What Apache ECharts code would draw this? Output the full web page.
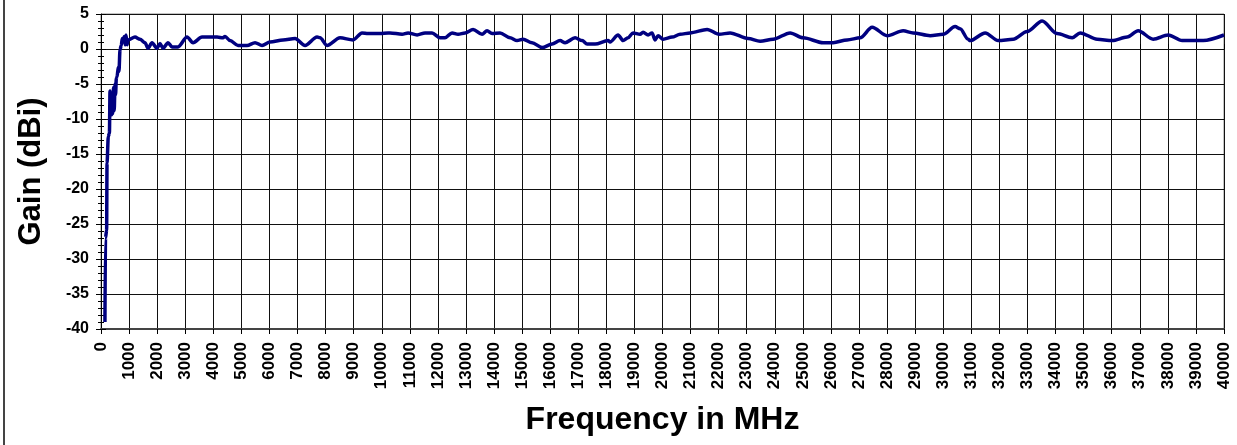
<!DOCTYPE html>
<html>
<head>
<meta charset="utf-8">
<script src="https://cdn.jsdelivr.net/npm/echarts@6/dist/echarts.min.js"></script>
<style>
html,body{margin:0;padding:0;background:#fff;}
#chart{width:1237px;height:445px;}
</style>
</head>
<body>
<div id="chart"></div>
<script>
// Frequency (MHz) and gain (dBi)
const freqMHz = [
  140,160,200,215,260,300,321,340,360,380,400,420,445,470,500,520,545,570,616,640,677,720,760,794,830,860,891,930,962,
  1211,1389,1568,1674,1817,1995,2102,2209,2387,2529,2743,3064,3278,3598,4133,4346,4418,4596,4881,5201,5486,5736,6021,
  6484,6911,7268,7695,7802,8051,8514,8978,9298,9512,9939,10224,10296,10723,10937,11258,11543,11792,12077,12255,12504,
  12718,12968,13253,13573,13751,13929,14214,14571,14820,15034,15354,15711,16067,16352,16530,16886,17136,17314,17599,
  18062,18133,18418,18596,18774,18953,19202,19309,19487,19629,19736,19843,20021,20342,20627,20983,21589,22016,22408,
  23049,23477,23940,24546,25009,25721,26078,26576,27039,27467,28001,28571,28928,29533,29996,30424,30602,30887,30958,
  31493,31956,32490,32989,33523,34057,34591,34876,35482,36016,36551,36943,37477,38012,38511,39259,40000
];
const gainDbi = [
  -39.0,-27.0,-25.9,-16.3,-12.5,-12.0,-6.0,-9.3,-6.3,-9.4,-7.5,-9.2,-5.5,-8.8,-5.0,-6.5,-4.2,-4.0,-2.6,-3.2,-0.1,0.5,1.5,1.1,1.8,0.6,2.0,0.6,1.3,
  1.7,1.4,0.9,0.1,0.9,0.1,0.8,0.1,0.9,0.3,0.3,1.7,0.9,1.7,1.7,1.6,1.8,1.2,0.5,0.5,0.9,0.5,1.0,
  1.3,1.5,0.5,1.7,1.6,0.5,1.6,1.3,2.3,2.2,2.2,2.3,2.3,2.1,2.3,2.0,2.3,2.3,1.6,1.6,2.3,
  2.1,2.3,2.8,2.1,2.6,2.2,2.3,1.6,1.2,1.4,0.9,0.2,0.7,1.2,0.9,1.6,1.2,0.7,0.7,
  1.2,1.0,2.0,1.2,1.6,2.3,2.1,2.4,2.0,2.3,1.3,1.9,1.4,1.7,2.1,2.3,2.8,2.1,2.3,
  1.5,1.1,1.4,2.3,1.6,0.9,0.9,1.3,1.6,3.1,1.9,2.6,2.3,1.9,2.1,3.2,2.9,1.4,1.2,
  2.3,1.2,1.4,2.5,4.0,2.2,1.6,2.3,1.4,1.2,1.7,2.6,1.4,2.0,1.2,1.2,2.0
];
const xTickStep = 1000;
const yTickStep = 5;

const chart = echarts.init(document.getElementById('chart'), null, {renderer: 'canvas'});
const pairs = freqMHz.map((f, i) => [f, gainDbi[i]]);
const labelFont = {fontFamily: 'Liberation Sans, Arial, sans-serif', fontWeight: 'bold', color: '#000'};

chart.setOption({
  animation: false,
  backgroundColor: '#fff',
  grid: {left: 101, right: 13, top: 14, bottom: 116, show: true, borderColor: '#888', borderWidth: 1},
  xAxis: [{
    type: 'value', min: 0, max: 40000, interval: xTickStep, position: 'bottom',
    name: 'Frequency in MHz', nameLocation: 'middle', nameGap: 75,
    nameTextStyle: Object.assign({fontSize: 32}, labelFont),
    axisLine: {show: true, onZero: false, lineStyle: {color: '#444', width: 2}},
    axisTick: {show: true, length: 5, lineStyle: {color: '#000'}},
    axisLabel: Object.assign({rotate: 90, fontSize: 17, margin: 13, hideOverlap: false, interval: 0,
      formatter: v => String(v)}, labelFont),
    splitLine: {show: true, lineStyle: {color: '#111', width: 1}}
  }, {
    type: 'value', min: 0, max: 40000, interval: xTickStep, position: 'bottom',
    axisLine: {show: false}, axisLabel: {show: false}, splitLine: {show: false},
    axisTick: {show: true, inside: true, length: 5, lineStyle: {color: '#000'}}
  }],
  yAxis: [{
    type: 'value', min: -40, max: 5, interval: yTickStep, position: 'left',
    name: 'Gain (dBi)', nameLocation: 'middle', nameGap: 54,
    nameTextStyle: Object.assign({fontSize: 31}, labelFont),
    axisLine: {show: true, onZero: false, lineStyle: {color: '#000', width: 1}},
    axisTick: {show: true, length: 5, lineStyle: {color: '#000'}},
    minorTick: {show: true, splitNumber: 5, length: 3, lineStyle: {color: '#000'}},
    axisLabel: Object.assign({fontSize: 16, margin: 12}, labelFont),
    splitLine: {show: true, lineStyle: {color: '#111', width: 1}}
  }, {
    type: 'value', min: -40, max: 5, interval: yTickStep, position: 'left',
    axisLine: {show: false}, axisLabel: {show: false}, splitLine: {show: false},
    axisTick: {show: true, inside: true, length: 5, lineStyle: {color: '#000'}},
    minorTick: {show: true, splitNumber: 5, length: 3, lineStyle: {color: '#000'}}
  }],
  series: [{
    type: 'line', xAxisIndex: 0, yAxisIndex: 0, data: pairs,
    showSymbol: false, smooth: 0.3, smoothMonotone: 'x',
    lineStyle: {color: '#000080', width: 3.5}, z: 5
  }],
  graphic: [{
    type: 'line', shape: {x1: 4, y1: 0, x2: 4, y2: 445},
    style: {stroke: '#444', lineWidth: 2}, silent: true
  }]
});
</script>
</body>
</html>
